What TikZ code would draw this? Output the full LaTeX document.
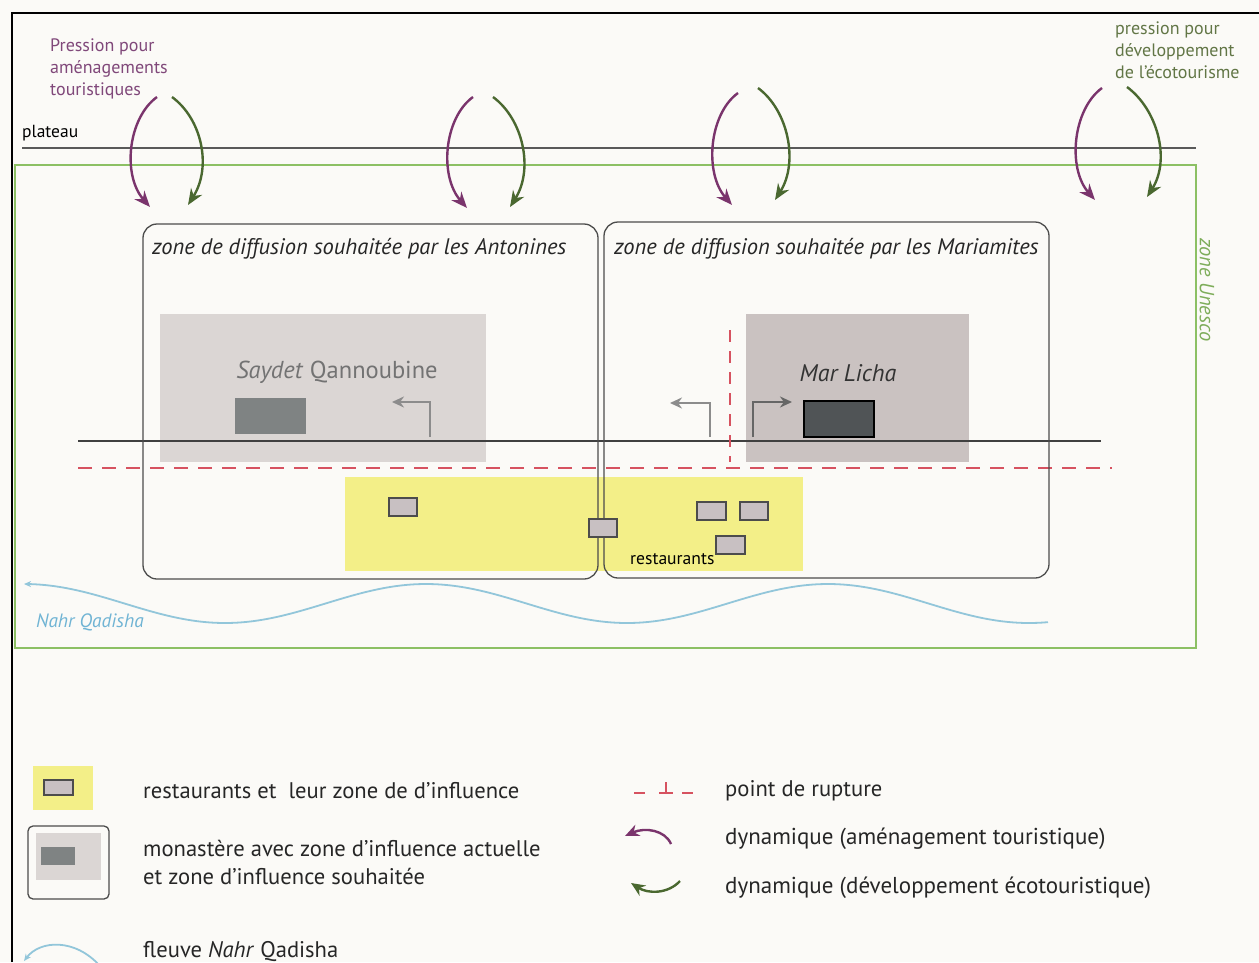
\documentclass[tikz,border=0pt]{standalone}
\usepackage{fontspec}
\setmainfont{PT Sans}
\usetikzlibrary{arrows.meta, positioning}

\definecolor{bgWhite}{RGB}{251,250,247}
\definecolor{tourPurple}{RGB}{122,52,108}
\definecolor{tourText}{RGB}{128,72,122}
\definecolor{ecoGreen}{RGB}{74,104,48}
\definecolor{ecoText}{RGB}{98,118,70}
\definecolor{unescoGreen}{RGB}{140,192,100}
\definecolor{ruptRed}{RGB}{214,82,96}
\definecolor{riverBlue}{RGB}{146,198,218}
\definecolor{riverText}{RGB}{112,180,212}
\definecolor{restoYellow}{RGB}{243,239,136}
\definecolor{restoGray}{RGB}{200,192,194}
\definecolor{monaLight}{RGB}{219,214,212}
\definecolor{monaMid}{RGB}{202,194,193}
\definecolor{monaDark}{RGB}{127,131,131}
\definecolor{lichaDark}{RGB}{80,84,86}

\begin{document}
\begin{tikzpicture}[x=1pt, y=-1pt,
        base/.style={inner sep=0pt, anchor=west},
        legend/.style={base, font=\fontsize{22.6}{28}\selectfont, text=black!85},
        zonetitle/.style={base, font=\fontsize{22.5}{26}\selectfont\itshape, text=black!85},
        toplabel/.style={inner sep=0pt, anchor=north west, align=left, font=\fontsize{18}{22}\selectfont},
        zonebox/.style={draw=black!70, line width=1.3pt, rounded corners=14pt},
        resto/.style={draw=black!70, line width=1.3pt, fill=restoGray},
        tour/.style={-{Stealth[length=16pt, width=13pt]}, line width=2.4pt, draw=tourPurple},
        eco/.style={-{Stealth[length=16pt, width=13pt]}, line width=2.4pt, draw=ecoGreen},
        turnarrow/.style={-{Stealth[length=12pt, width=11pt]}, line width=2.2pt},
        rupture/.style={draw=ruptRed, line width=2.4pt, dash pattern=on 14pt off 10pt},
        river/.style={draw=riverBlue, line width=1.8pt}
    ]

    \useasboundingbox (0,0) rectangle (1259,962);
    \fill [bgWhite] (0,0) rectangle (1259,962);
    \draw [line width=2pt] (12,962) -- (12,13) -- (1259,13);

    % --- 1. PLATEAU AND UNESCO ZONE ---
    \node [base, font=\fontsize{17.5}{20}\selectfont] (plateau) at (22,133) {plateau};
    \draw [line width=1.8pt, black!65] (22,148) -- (1196,148);
    \draw [unescoGreen, line width=2pt] (15,165) rectangle (1196,648);
    \node [font=\fontsize{20.5}{22}\selectfont\itshape, text=unescoGreen!90!black, rotate=-90, inner sep=0pt] (unesco) at (1207,290) {zone Unesco};

    % --- 2. PRESSURES FROM THE PLATEAU ---
    \node [toplabel, text=tourText] (press_tour) at (50,39) {Pression pour\\am\'enagements\\touristiques};
    \node [toplabel, text=ecoText] (press_eco) at (1115,22) {pression pour\\d\'eveloppement\\de l’\'ecotourisme};

    \coordinate (ta1) at (157,97);   \coordinate (ta2) at (150,207);
    \coordinate (ea1) at (172,97);   \coordinate (ea2) at (188,205);
    \coordinate (tb1) at (473,97);   \coordinate (tb2) at (467,208);
    \coordinate (eb1) at (493,97);   \coordinate (eb2) at (510,207);
    \coordinate (tc1) at (738,93);   \coordinate (tc2) at (732,205);
    \coordinate (ec1) at (758,88);   \coordinate (ec2) at (775,200);
    \coordinate (td1) at (1102,88);  \coordinate (td2) at (1095,200);
    \coordinate (ed1) at (1127,87);  \coordinate (ed2) at (1147,197);

    \draw [tour] (ta1) .. controls +(-29,21) and +(-28,-32) .. (ta2);
    \draw [eco]  (ea1) .. controls +(30,22) and +(24,-38) .. (ea2);
    \draw [tour] (tb1) .. controls +(-29,21) and +(-28,-32) .. (tb2);
    \draw [eco]  (eb1) .. controls +(30,22) and +(24,-38) .. (eb2);
    \draw [tour] (tc1) .. controls +(-29,21) and +(-28,-32) .. (tc2);
    \draw [eco]  (ec1) .. controls +(30,22) and +(24,-38) .. (ec2);
    \draw [tour] (td1) .. controls +(-29,21) and +(-28,-32) .. (td2);
    \draw [eco]  (ed1) .. controls +(30,22) and +(24,-38) .. (ed2);

    % --- 3. MONASTERIES ---
    \fill [monaLight] (160,314) rectangle (486,462);
    \fill [monaDark] (235,398) rectangle (306,434);
    \node [font=\fontsize{24.5}{28}\selectfont, text=black!55] (saydet) at (337,372) {\textit{Saydet} Qannoubine};
    \draw [turnarrow, black!45] (430,437) -- (430,402) -- (392,402);

    \fill [monaMid] (746,314) rectangle (969,462);
    \draw [fill=lichaDark, line width=2pt] (804,401) rectangle (874,437);
    \node [font=\fontsize{24}{28}\selectfont\itshape, text=black!80] (licha) at (848,373) {Mar Licha};
    \draw [turnarrow, black!60] (753,437) -- (753,402) -- (792,402);
    \draw [turnarrow, black!45] (710,437) -- (710,403) -- (670,403);

    \draw [line width=1.4pt, black!75] (78,441) -- (1101,441);
    \draw [rupture] (78,468) -- (1112,468);
    \draw [rupture, dash pattern=on 12pt off 9pt] (730,330) -- (730,462);

    % --- 4. RESTAURANTS AND DIFFUSION ZONES ---
    \fill [restoYellow] (345,477) rectangle (803,571);
    \draw [zonebox] (143,224) rectangle (598,579);
    \draw [zonebox] (604,222) rectangle (1049,578);
    \node [zonetitle] (antonines) at (152,249) {zone de diffusion souhait\'ee par les Antonines};
    \node [zonetitle] (mariamites) at (614,249) {zone de diffusion souhait\'ee par les Mariamites};

    \draw [resto] (389,498) rectangle (417,516);
    \draw [resto] (589,519) rectangle (617,537);
    \draw [resto] (697,502) rectangle (726,520);
    \draw [resto] (740,502) rectangle (768,520);
    \draw [resto] (716,536) rectangle (745,554);
    \node [base, font=\fontsize{17.6}{20}\selectfont] (restaurants) at (630,559) {restaurants};

    % --- 5. NAHR QADISHA ---
    \draw [river, {Stealth[length=7pt, width=6pt]}-] plot[domain=24:1048, samples=140, smooth] (\x, {603.5-19.5*cos(0.89552*(\x-24))});
    \node [base, font=\fontsize{19.3}{22}\selectfont\itshape, text=riverText] (nahr) at (36,622) {Nahr Qadisha};

    % --- 6. LEGEND ---
    \fill [restoYellow] (33,766) rectangle (93,810);
    \draw [resto] (44,780) rectangle (73,795);
    \node [legend] (leg_resto) at (143,791) {restaurants et\ \ leur zone de d’influence};

    \draw [draw=black!70, line width=1.3pt, rounded corners=5pt] (28,826) rectangle (109,899);
    \fill [monaLight] (36,833) rectangle (101,880);
    \fill [monaDark] (41,847) rectangle (75,865);
    \node [legend, align=left, anchor=north west] (leg_mona) at (143,840) {monast\`ere avec zone d’influence actuelle\\et zone d’influence souhait\'ee};

    \draw [river, {Stealth[length=7pt, width=6pt]}-] (24,961) .. controls (40,940) and (75,938) .. (100,966);
    \node [legend] (leg_river) at (143,952) {fleuve \textit{Nahr} Qadisha};

    \draw [ruptRed, line width=2pt] (634,793) -- (645,793) (659,793) -- (673,793) (666,793) -- (666,782) (682,793) -- (693,793);
    \node [legend] (leg_rupt) at (725,791) {point de rupture};

    \coordinate (lt1) at (671,844);  \coordinate (lt2) at (625,836);
    \coordinate (le1) at (680,881);  \coordinate (le2) at (631,883);
    \draw [tour, -{Stealth[length=14pt, width=12pt]}] (lt1) .. controls (665,830) and (645,827) .. (lt2);
    \draw [eco, -{Stealth[length=14pt, width=12pt]}] (le1) .. controls (668,894) and (648,894) .. (le2);
    \node [legend, font=\fontsize{23}{28}\selectfont] (leg_tour) at (725,839) {dynamique (am\'enagement touristique)};
    \node [legend, font=\fontsize{23}{28}\selectfont] (leg_eco) at (725,888) {dynamique (d\'eveloppement \'ecotouristique)};

\end{tikzpicture}
\end{document}
